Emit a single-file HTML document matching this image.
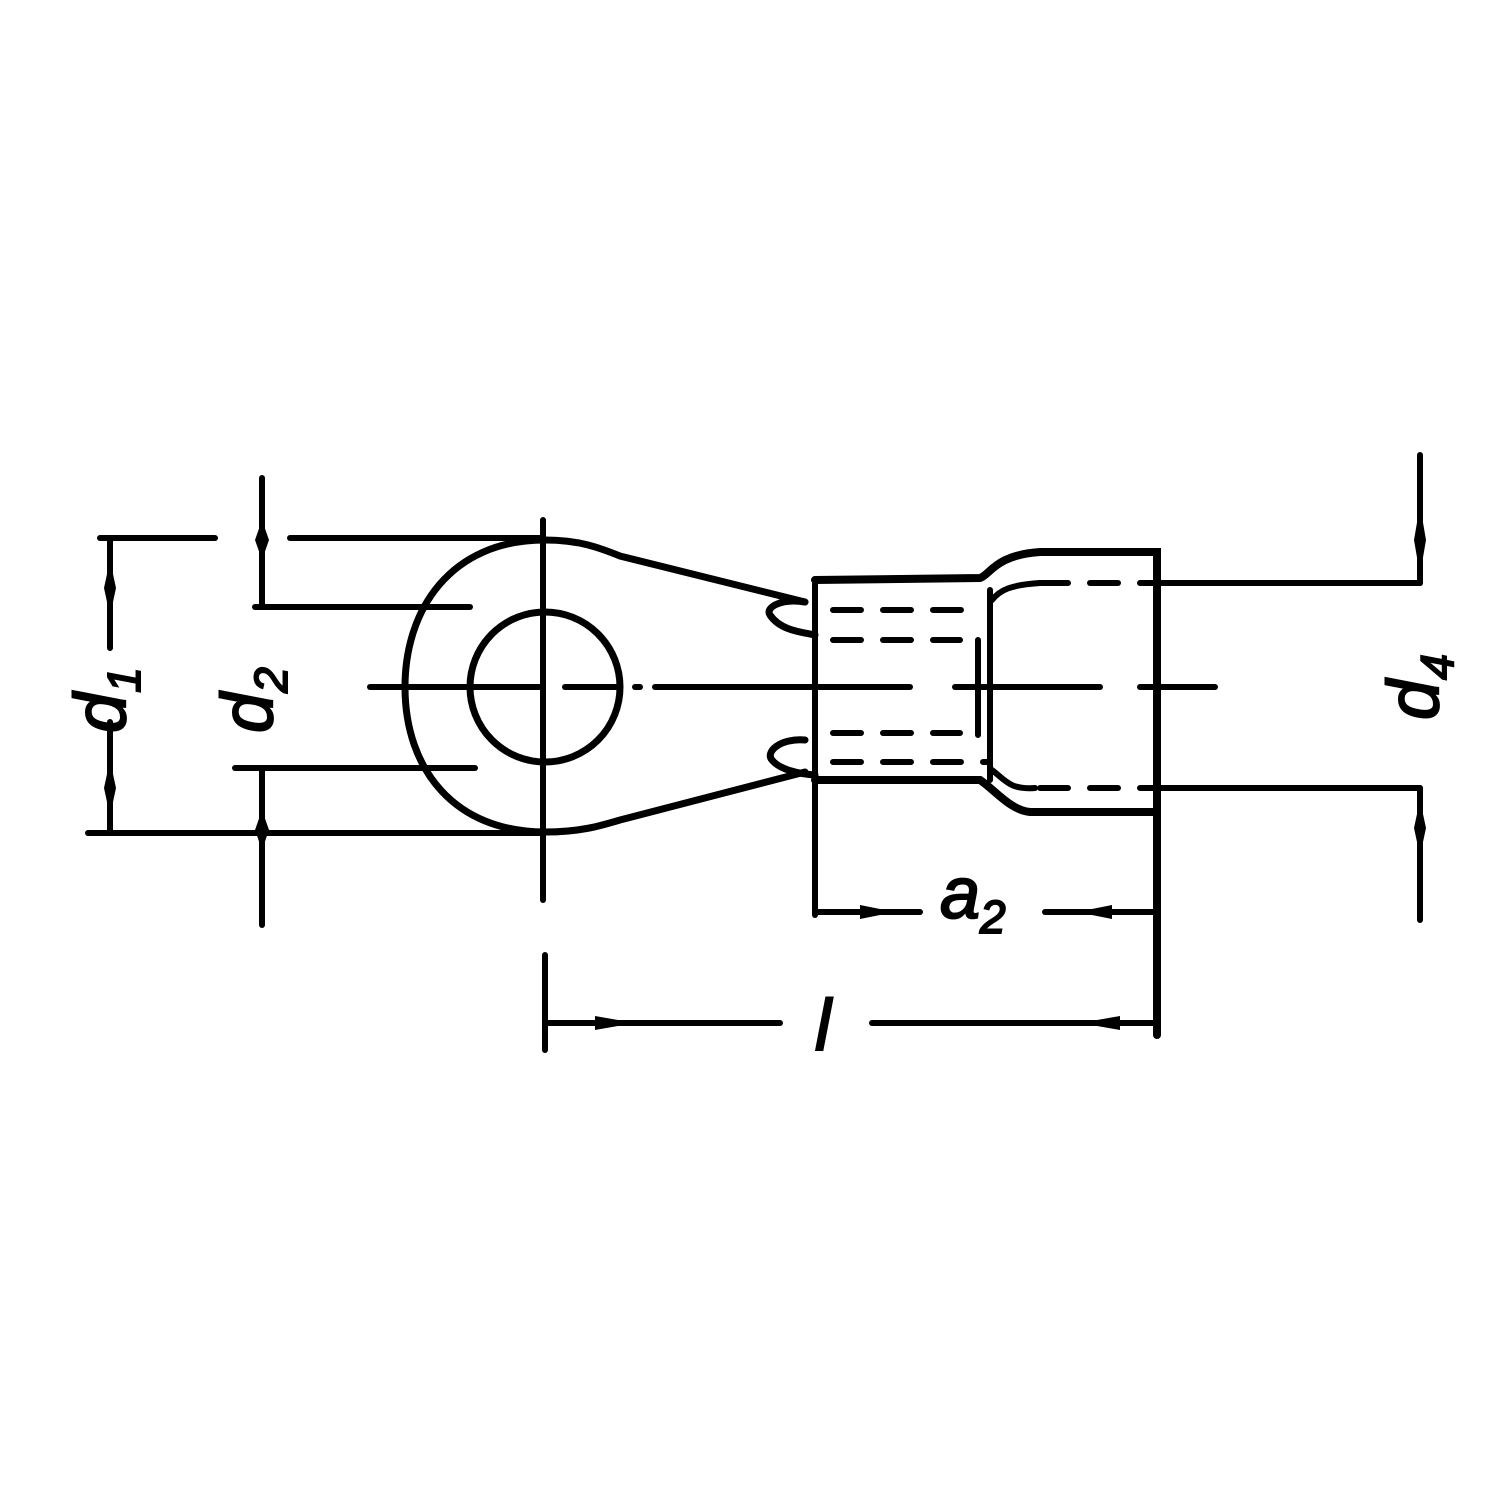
<!DOCTYPE html>
<html><head><style>html,body{margin:0;padding:0;background:#fff}</style></head><body>
<svg width="1500" height="1500" viewBox="0 0 1500 1500" xmlns="http://www.w3.org/2000/svg">
<rect width="1500" height="1500" fill="#fff"/>
<g stroke="#000" stroke-width="6" fill="none" stroke-linecap="round">
<line x1="100" y1="538" x2="215" y2="538"/>
<line x1="290" y1="538" x2="540" y2="538"/>
<line x1="88" y1="833" x2="540" y2="833"/>
<line x1="110" y1="538" x2="110" y2="648"/>
<line x1="110" y1="722" x2="110" y2="833"/>
<line x1="262" y1="478" x2="262" y2="607"/>
<line x1="262" y1="768" x2="262" y2="925"/>
<line x1="255" y1="607" x2="470" y2="607"/>
<line x1="235" y1="768" x2="475" y2="768"/>
<g stroke-width="7">
<path d="M545 540 C580 540 600 548 620 556 L805 602 M545 832 C580 832 600 826 620 820 L805 772"/>
<path d="M545 540 C450 540 405 610 405 687 C405 770 455 832 545 832"/>
<circle cx="545" cy="687" r="75"/>
</g>
<path d="M805 602 C780 598 765 608 770 615 C780 630 800 632 815 635" stroke-width="7"/>
<path d="M805 740 C780 738 765 752 772 760 C780 770 800 774 815 775" stroke-width="7"/>
<line x1="370" y1="687" x2="540" y2="687"/>
<line x1="565" y1="687" x2="620" y2="687"/>
<line x1="635" y1="687" x2="640" y2="687"/>
<line x1="655" y1="687" x2="910" y2="687"/>
<line x1="955" y1="687" x2="1100" y2="687"/>
<line x1="1140" y1="687" x2="1215" y2="687"/>
<line x1="543" y1="520" x2="543" y2="900"/>
<path d="M815 580 L980 578 C990 575 995 555 1040 552 L1157 552 L1157 1035" stroke-width="8"/>
<path d="M815 780 L980 780 C995 790 1010 810 1030 812 L1157 812" stroke-width="8"/>
<line x1="815" y1="580" x2="815" y2="915" stroke-width="6"/>
<path d="M990 590 L990 780 M978 640 L978 735"/>
<path d="M992 600 C1000 590 1010 585 1040 583" />
<path d="M992 770 C1005 780 1010 790 1035 788"/>
<g stroke-dasharray="28 22">
<line x1="833" y1="610" x2="970" y2="610"/>
<line x1="833" y1="640" x2="960" y2="640"/>
<line x1="833" y1="733" x2="960" y2="733"/>
<line x1="833" y1="762" x2="990" y2="762"/>
<line x1="1040" y1="583" x2="1157" y2="583"/>
<line x1="1040" y1="788" x2="1157" y2="788"/>
</g>
<line x1="1157" y1="583" x2="1420" y2="583"/>
<line x1="1157" y1="788" x2="1420" y2="788"/>
<line x1="1420" y1="455" x2="1420" y2="583"/>
<line x1="1420" y1="788" x2="1420" y2="920"/>
<line x1="815" y1="912" x2="920" y2="912"/>
<line x1="1045" y1="912" x2="1157" y2="912"/>
<line x1="545" y1="955" x2="545" y2="1050"/>
<line x1="545" y1="1023" x2="780" y2="1023"/>
<line x1="872" y1="1023" x2="1157" y2="1023"/>
</g>
<g fill="#000">
<path d="M262 520 l-7 20 l7 20 l7 -20z"/><path d="M262 810 l-7 20 l7 20 l7 -20z"/>
<path d="M110 560 l-6 28 l6 28 l6 -28z"/><path d="M110 760 l-6 28 l6 28 l6 -28z"/>
<path d="M1420 505 l-6 35 l6 35 l6 -35z"/><path d="M1420 800 l-6 28 l6 28 l6 -28z"/>
<path d="M860 905 l35 7 l-35 7z"/><path d="M1112 905 l-35 7 l35 7z"/>
<path d="M595 1016 l40 7 l-40 7z"/><path d="M1120 1016 l-40 7 l40 7z"/>
</g>
<g font-family="Liberation Sans, sans-serif" font-style="italic" font-size="72" stroke="#000" stroke-width="2">
<text transform="translate(125,700) rotate(-90)" text-anchor="middle">d<tspan font-size="46" dy="15">1</tspan></text>
<text transform="translate(272,700) rotate(-90)" text-anchor="middle">d<tspan font-size="46" dy="15">2</tspan></text>
<text transform="translate(1438,687) rotate(-90)" text-anchor="middle">d<tspan font-size="46" dy="15">4</tspan></text>
<text x="940" y="918">a<tspan font-size="46" dy="15">2</tspan></text>
<text x="815" y="1050">l</text>
</g>
</svg>
</body></html>
